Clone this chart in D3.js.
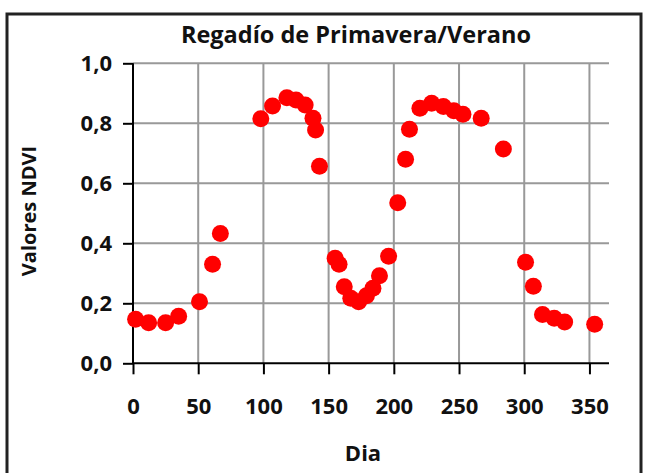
<!DOCTYPE html>
<html><head><meta charset="utf-8">
<script src="https://cdn.jsdelivr.net/npm/d3@7"></script>
<style>html,body{margin:0;padding:0;background:#fff;}svg{display:block;}</style>
</head><body>
<script>
const title = "Regadío de Primavera/Verano";
const xLabel = "Dia";
const yLabel = "Valores NDVI";
const days = [2, 12, 25, 35, 51, 61, 67, 98, 107, 118, 125, 132, 138, 140, 143, 155, 158, 162, 167, 173, 179, 184, 189, 196, 203, 209, 212, 220, 229, 238, 246, 253, 267, 284, 301, 307, 314, 323, 331, 354];
const ndvi = [0.147, 0.135, 0.135, 0.157, 0.205, 0.33, 0.433, 0.815, 0.858, 0.885, 0.878, 0.861, 0.817, 0.778, 0.657, 0.35, 0.33, 0.255, 0.217, 0.205, 0.225, 0.25, 0.292, 0.357, 0.535, 0.68, 0.78, 0.85, 0.867, 0.856, 0.842, 0.83, 0.817, 0.714, 0.337, 0.257, 0.163, 0.15, 0.138, 0.13];
const xTicks = [0, 50, 100, 150, 200, 250, 300, 350];
const yTicks = [0, 0.2, 0.4, 0.6, 0.8, 1.0];

const W = 648, H = 473;
const svg = d3.select("body").append("svg").attr("width", W).attr("height", H);
const font = "'Open Sans', sans-serif";
const txt = "#111";

svg.append("rect").attr("x", 7).attr("y", 14).attr("width", 634).attr("height", 470)
  .attr("fill", "none").attr("stroke", "#222").attr("stroke-width", 3);

const x = d3.scaleLinear().domain([0, 365]).range([133, 609]);
const y = d3.scaleLinear().domain([0, 1]).range([363.3, 63.3]);

// gridlines
const g = svg.append("g");
g.selectAll("line.h").data(yTicks.slice(1)).join("line")
  .attr("x1", x(0)).attr("x2", x(365)).attr("y1", d => y(d)).attr("y2", d => y(d))
  .attr("stroke", "#999").attr("stroke-width", 2);
g.selectAll("line.v").data(xTicks.slice(1)).join("line")
  .attr("x1", d => x(d)).attr("x2", d => x(d)).attr("y1", y(1)).attr("y2", y(0))
  .attr("stroke", "#999").attr("stroke-width", 2);

// axes
const xAxis = d3.axisBottom(x).tickValues(xTicks).tickSize(11).tickPadding(24).tickFormat(d3.format("d"));
const gx = svg.append("g").attr("transform", `translate(0,${y(0)})`).call(xAxis);
const yAxis = d3.axisLeft(y).tickValues(yTicks).tickSize(10).tickPadding(11)
  .tickFormat(d => d3.format(".1f")(d).replace(".", ","));
const gy = svg.append("g").attr("transform", `translate(${x(0)},0)`).call(yAxis);
[gx, gy].forEach(a => {
  a.select(".domain").attr("stroke", "#000").attr("stroke-width", 2);
  a.selectAll(".tick line").attr("stroke", "#000").attr("stroke-width", 2);
  a.selectAll(".tick text").attr("font-family", font).attr("font-weight", "bold")
    .attr("font-size", 22).attr("fill", txt);
});
gx.select(".domain").attr("d", `M${x(0)},0H${x(365)}`);
gy.select(".domain").attr("d", `M0,${y(0)}V${y(1)}`);

// points
svg.append("g").selectAll("circle").data(days.map((d, i) => [d, ndvi[i]])).join("circle")
  .attr("cx", d => x(d[0])).attr("cy", d => y(d[1])).attr("r", 8.5).attr("fill", "#ff0000");

// texts
svg.append("text").attr("x", 356).attr("y", 37).attr("text-anchor", "middle")
  .attr("dominant-baseline", "middle").attr("font-family", font).attr("font-weight", "bold")
  .attr("font-size", 23.5).attr("fill", txt).text(title);
svg.append("text").attr("x", 363).attr("y", 455).attr("text-anchor", "middle")
  .attr("dominant-baseline", "middle").attr("font-family", font).attr("font-weight", "bold")
  .attr("font-size", 22).attr("fill", txt).text(xLabel);
svg.append("text").attr("transform", "translate(31,211) rotate(-90)").attr("text-anchor", "middle")
  .attr("dominant-baseline", "middle").attr("font-family", font).attr("font-weight", "bold")
  .attr("font-size", 20).attr("fill", txt).text(yLabel);
</script>
</body></html>
